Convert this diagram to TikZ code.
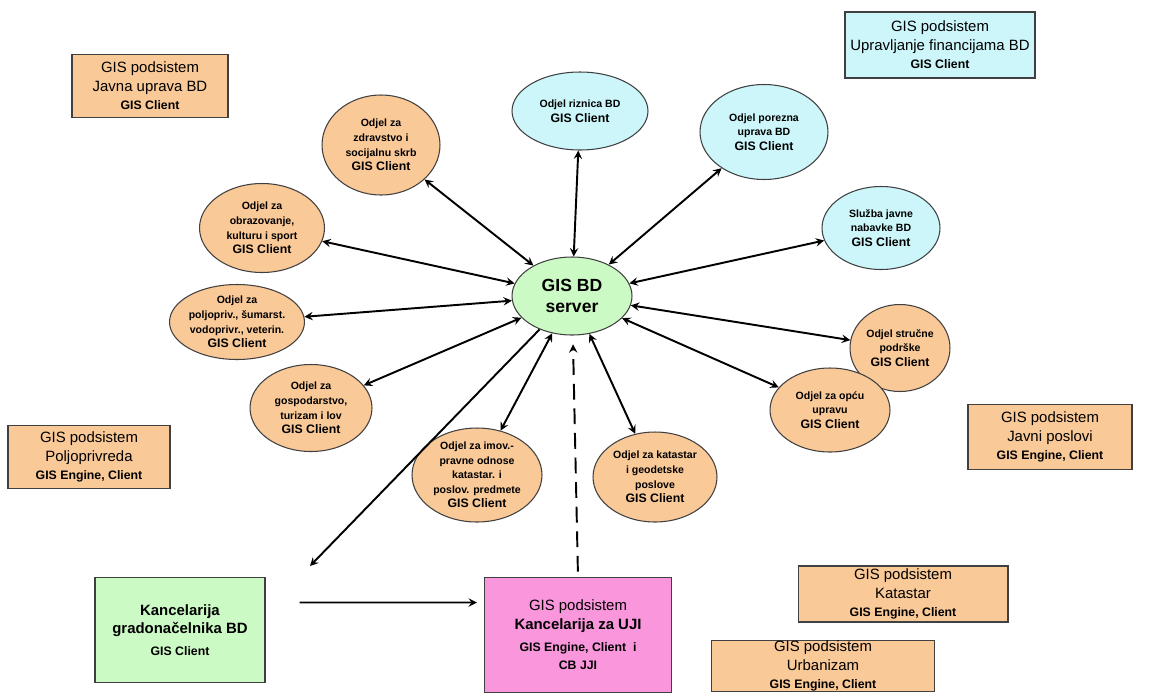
\documentclass[tikz,border=0pt]{standalone}
\usepackage{fontspec}
\setmainfont{Liberation Sans}
\usetikzlibrary{shapes.geometric}

\definecolor{peach}{RGB}{250,201,152}
\definecolor{skyish}{RGB}{204,246,250}
\definecolor{mint}{RGB}{204,250,196}
\definecolor{rosy}{RGB}{250,150,220}

\newcommand{\gisclient}{{\fontsize{7}{8.5}\selectfont\bfseries GIS Client}}
\newcommand{\gisengine}{{\fontsize{7}{8.5}\selectfont\bfseries GIS Engine, Client}}

\tikzset{
  txt/.style={align=center,inner sep=0pt,font=\fontsize{6}{8.3}\selectfont\bfseries},
  odjel/.style={ellipse,draw=black!75,fill=peach,line width=0.6pt,inner sep=0pt,label={[txt]center:#1}},
  odjelb/.style={odjel={#1},fill=skyish},
  podsis/.style={rectangle,draw=black!75,line width=0.6pt,fill=peach,align=center,inner sep=0pt,font=\fontsize{8.5}{10.5}\selectfont},
  veza/.style={<->,>=stealth,line width=1.1pt},
}

\begin{document}
\begin{tikzpicture}[x=0.02cm,y=-0.02cm]
	\useasboundingbox (0,0) rectangle (1150,694);

	%SERVER
	\node[ellipse,draw=black!75,fill=mint,line width=0.6pt,inner sep=0pt,minimum width=2.4cm,minimum height=1.56cm,align=center,font=\fontsize{10}{12}\selectfont\bfseries] (srv) at (572,296) {GIS BD\\server};

	%DEPARTMENTS -- BLUE
	\node[odjelb={Odjel riznica BD\\\gisclient},minimum width=2.72cm,minimum height=1.56cm] (riz) at (580,111) {};
	\node[odjelb={Odjel porezna\\uprava BD\\\gisclient},minimum width=2.56cm,minimum height=1.9cm] (por) at (764,132) {};
	\node[odjelb={Služba javne\\nabavke BD\\\gisclient},minimum width=2.36cm,minimum height=1.66cm] (nab) at (881,228) {};

	%DEPARTMENTS -- ORANGE
	\node[odjel={Odjel stručne\\podrške\\\gisclient},minimum width=2.0cm,minimum height=1.74cm] (str) at (900,348) {};
	\node[odjel={Odjel za opću\\upravu\\\gisclient},minimum width=2.4cm,minimum height=1.68cm] (opc) at (830,410) {};
	\node[odjel={Odjel za katastar\\i geodetske\\poslove\\\gisclient},minimum width=2.48cm,minimum height=1.8cm] (kat) at (655,477) {};
	\node[odjel={Odjel za imov.-\\pravne odnose\\katastar. i\\poslov. predmete\\\gisclient},minimum width=2.6cm,minimum height=1.88cm] (imo) at (477,475) {};
	\node[odjel={Odjel za\\gospodarstvo,\\turizam i lov\\\gisclient},minimum width=2.44cm,minimum height=1.74cm] (gos) at (311,408) {};
	\node[odjel={Odjel za\\poljopriv., šumarst.\\vodoprivr., veterin.\\\gisclient},minimum width=2.7cm,minimum height=1.5cm] (pol) at (237,322) {};
	\node[odjel={Odjel za\\obrazovanje,\\kulturu i sport\\\gisclient},minimum width=2.5cm,minimum height=1.78cm] (obr) at (262,228) {};
	\node[odjel={Odjel za\\zdravstvo i\\socijalnu skrb\\\gisclient},minimum width=2.36cm,minimum height=2.0cm] (zdr) at (381,145) {};

	%LINKS
	\foreach \o in {riz,por,nab,str,opc,kat,imo,gos,pol,obr,zdr}
		\draw[veza] (srv) -- (\o);

	%SUBSYSTEMS
	\node[podsis,minimum width=3.12cm,minimum height=1.26cm] (jav) at (150,86) {GIS podsistem\\Javna uprava BD\\\gisclient};
	\node[podsis,fill=skyish,minimum width=3.8cm,minimum height=1.32cm] (fin) at (940,45) {GIS podsistem\\Upravljanje financijama BD\\\gisclient};
	\node[podsis,minimum width=3.24cm,minimum height=1.26cm] (pps) at (89,457) {GIS podsistem\\Poljoprivreda\\\gisengine};
	\node[podsis,minimum width=3.28cm,minimum height=1.3cm] (jps) at (1050,437) {GIS podsistem\\Javni poslovi\\\gisengine};
	\node[podsis,minimum width=4.2cm,minimum height=1.12cm] (kts) at (903,594) {GIS podsistem\\Katastar\\\gisengine};
	\node[podsis,minimum width=4.46cm,minimum height=0.96cm] (urb) at (823,666) {GIS podsistem\\Urbanizam\\\gisengine};

	%BOTTOM PART
	\node[podsis,fill=mint,minimum width=3.4cm,minimum height=2.1cm] (kanc) at (180,630) {\textbf{Kancelarija}\\\textbf{gradonačelnika BD}\\[2pt]\gisclient};
	\node[podsis,fill=rosy,minimum width=3.74cm,minimum height=2.3cm] (uji) at (578,635) {GIS podsistem\\\textbf{Kancelarija za UJI}\\[2pt]{\fontsize{7}{8.5}\selectfont\bfseries GIS Engine, Client\ \ i}\\{\fontsize{7}{8.5}\selectfont\bfseries CB JJI}};
	\coordinate (kend) at (310,566);
	\draw[->,>=stealth,line width=1.1pt] (srv) -- (kend);
	\draw[->,>=stealth,line width=1.1pt,dash pattern=on 9pt off 5pt,shorten <=3pt,shorten >=5pt] (uji.north) -- (srv);
	\draw[->,>=stealth,line width=1.1pt] ([xshift=0.68cm,yshift=0.55cm]kanc.east) -- ([xshift=-0.14cm,yshift=0.65cm]uji.west);
\end{tikzpicture}
\end{document}
